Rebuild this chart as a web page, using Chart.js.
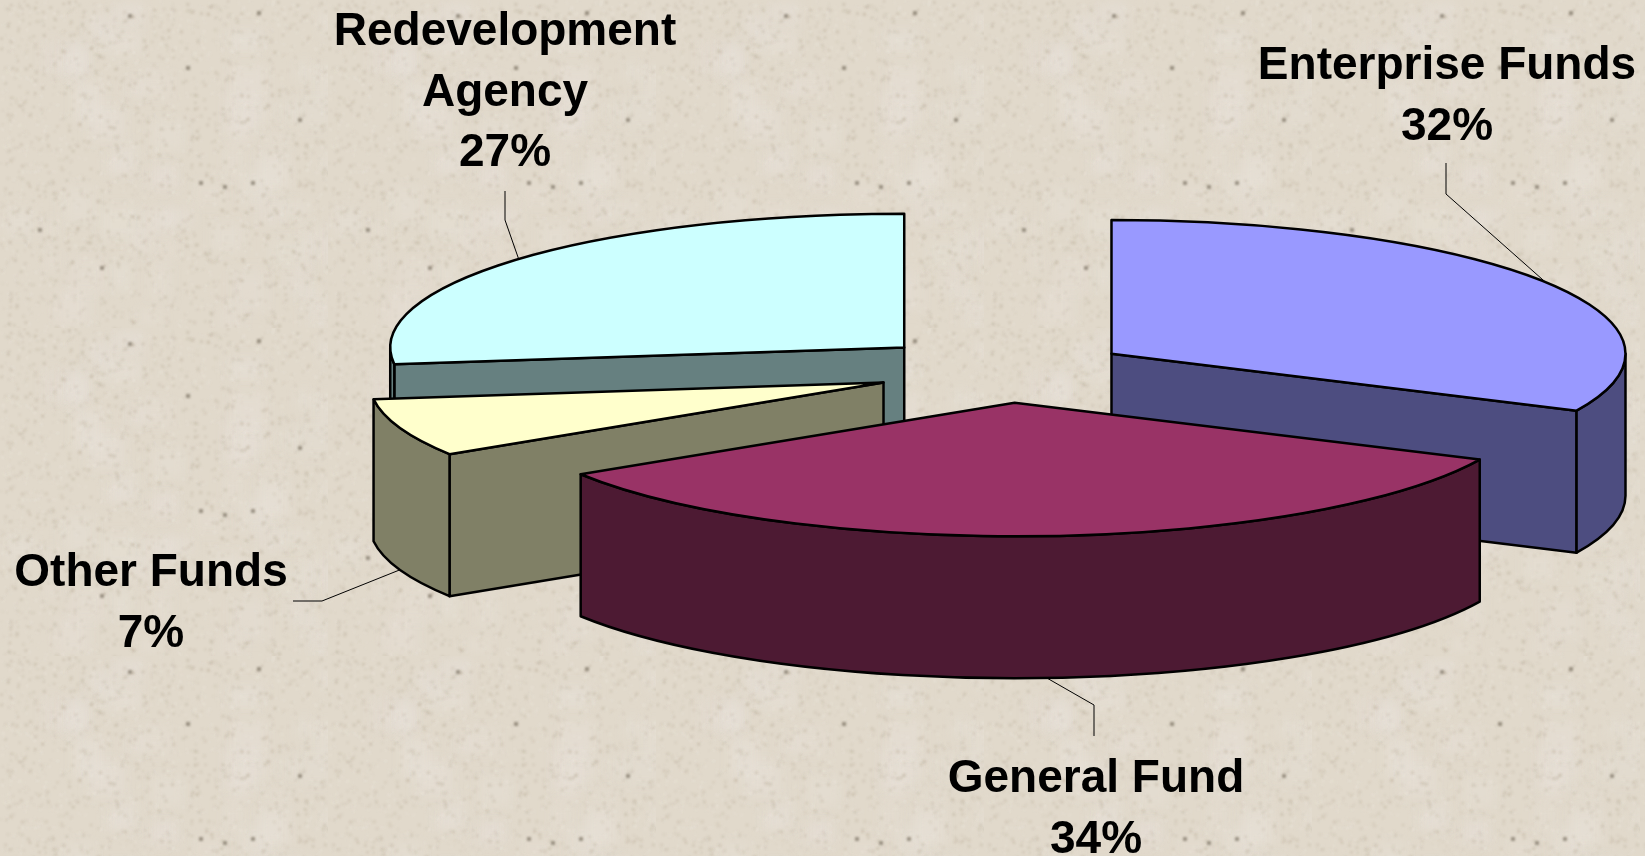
<!DOCTYPE html>
<html>
<head>
<meta charset="utf-8">
<title>Funds</title>
<style>
  html, body { margin: 0; padding: 0; background: #e0d8ca; overflow: hidden; }
  #wrap { width: 1645px; height: 856px; }
</style>
<script src="https://cdn.jsdelivr.net/npm/chart.js@4"></script>
</head>
<body>
<div id="wrap"><canvas id="mycanvas" width="1645" height="856"></canvas></div>
<script>
var categories = ["Enterprise Funds", "General Fund", "Other Funds", "Redevelopment Agency"];
var shares = [32, 34, 7, 27];

var topColors = ["#9999ff", "#993366", "#ffffcc", "#ccffff"];
var sideColors = ["#4d4d80", "#4d1a33", "#808066", "#668080"];
var explode = [495, 488, 525, 548];

// text lines + leader line per slice
var labelLines = [["Enterprise Funds"], ["General Fund"], ["Other Funds"], ["Redevelopment", "Agency"]];
var labelCenterX = [1447, 1096, 151, 505];
var labelBaseY = [79, 792, 586, 45];
var leaderBends = [
	[[1446, 194], [1446, 163]],
	[[1094, 705], [1094, 736]],
	[[322, 601], [293, 601]],
	[[505, 220], [505, 191]]
];

var TILT = 0.26;
var DEPTH = 142;
var LINE_GAP = 60.5;

// paper texture, one tile
var speckX = [130, 259, 188, 253, 201, 102, 40, 225, 300];
var speckY = [16, 13, 68, 183, 183, 268, 230, 187, 120];

function makeTile() {
	var size = 328;
	var tile = document.createElement("canvas");
	tile.width = size;
	tile.height = size;
	var c = tile.getContext("2d");
	c.fillStyle = "#e1d9cb";
	c.fillRect(0, 0, size, size);
	var seed = 12345;
	function next() {
		seed = (seed * 1103515245 + 12345) & 0x7fffffff;
		return seed / 0x7fffffff;
	}
	// soft blotches first, grain on top
	c.filter = "blur(6px)";
	for (var b = 0; b < 60; b++) {
		c.fillStyle = "rgba(232,226,218," + (0.2 + next() * 0.3) + ")";
		c.fillRect(next() * size, next() * size, 14 + next() * 26, 14 + next() * 26);
	}
	c.filter = "blur(1px)";
	for (var i = 0; i < 3600; i++) {
		var base = next() < 0.45 ? "rgba(175,162,140," : "rgba(240,235,226,";
		c.fillStyle = base + (0.1 + next() * 0.22) + ")";
		var s = 1 + next() * 2.5;
		c.fillRect(next() * size, next() * size, s, s);
	}
	c.filter = "blur(1px)";
	c.fillStyle = "rgba(120,110,95,0.65)";
	for (var k = 0; k < speckX.length; k++) {
		c.fillRect(speckX[k] - 2, speckY[k] - 2, 4, 4);
	}
	return tile;
}

var tileCanvas = makeTile();

function sliceCenter(arc, i) {
	var mid = (arc.startAngle + arc.endAngle) / 2;
	var off = arc.options.offset / 4;
	return {
		x: arc.x + Math.cos(mid) * off,
		y: arc.y + Math.sin(mid) * off * TILT,
		mid: mid,
		index: i
	};
}

function drawFace(ctx, c, R, ry, a) {
	var px = c.x + Math.cos(a) * R;
	var py = c.y + Math.sin(a) * ry;
	ctx.beginPath();
	ctx.moveTo(c.x, c.y);
	ctx.lineTo(px, py);
	ctx.lineTo(px, py + DEPTH);
	ctx.lineTo(c.x, c.y + DEPTH);
	ctx.closePath();
	ctx.fill();
	ctx.stroke();
}

function drawSlice(ctx, arc, c) {
	var R = arc.outerRadius;
	var ry = R * TILT;
	var a0 = arc.startAngle;
	var a1 = arc.endAngle;
	ctx.strokeStyle = "#000";
	ctx.lineWidth = 2.5;
	ctx.lineJoin = "round";
	ctx.fillStyle = sideColors[c.index];

	// cut faces, only the ones turned towards the viewer
	if (Math.cos(a0) < -0.001) {
		drawFace(ctx, c, R, ry, a0);
	}
	if (Math.cos(a1) > 0.001) {
		drawFace(ctx, c, R, ry, a1);
	}

	// outer wall, only the front half of the rim shows
	var from = Math.max(a0, 0);
	var to = Math.min(a1, Math.PI);
	if (to > from) {
		ctx.beginPath();
		ctx.ellipse(c.x, c.y, R, ry, 0, from, to);
		ctx.ellipse(c.x, c.y + DEPTH, R, ry, 0, to, from, true);
		ctx.closePath();
		ctx.fill();
		ctx.stroke();
	}

	// top
	ctx.fillStyle = topColors[c.index];
	ctx.beginPath();
	ctx.moveTo(c.x, c.y);
	ctx.ellipse(c.x, c.y, R, ry, 0, a0, a1);
	ctx.closePath();
	ctx.fill();
	ctx.stroke();
}

function drawLabel(ctx, arc, c) {
	var i = c.index;
	var R = arc.outerRadius;
	var sx = c.x + Math.cos(c.mid) * R;
	var sy = c.y + Math.sin(c.mid) * R * TILT;
	if (Math.sin(c.mid) > 0) {
		sy += DEPTH;
	}
	ctx.strokeStyle = "#000";
	ctx.lineWidth = 1;
	ctx.beginPath();
	ctx.moveTo(sx, sy);
	leaderBends[i].forEach(function(p) {
		ctx.lineTo(p[0], p[1]);
	});
	ctx.stroke();

	ctx.fillStyle = "#000";
	ctx.font = "bold 46px 'Liberation Sans'";
	ctx.textAlign = "center";
	ctx.textBaseline = "alphabetic";
	var lines = labelLines[i].concat([shares[i] + "%"]);
	lines.forEach(function(t, n) {
		ctx.fillText(t, labelCenterX[i], labelBaseY[i] + n * LINE_GAP);
	});
}

var pie3d = {
	id: "pie3d",
	beforeDraw: function(chart) {
		var ctx = chart.ctx;
		ctx.save();
		ctx.fillStyle = ctx.createPattern(tileCanvas, "repeat");
		ctx.fillRect(0, 0, chart.width, chart.height);
		ctx.restore();
	},
	beforeDatasetsDraw: function(chart) {
		var ctx = chart.ctx;
		var arcs = chart.getDatasetMeta(0).data;
		var centers = arcs.map(function(arc, i) {
			return sliceCenter(arc, i);
		});
		var order = centers.slice().sort(function(a, b) {
			return a.y - b.y;
		});
		ctx.save();
		order.forEach(function(c) {
			drawSlice(ctx, arcs[c.index], c);
		});
		centers.forEach(function(c) {
			drawLabel(ctx, arcs[c.index], c);
		});
		ctx.restore();
		return false;
	}
};

var chartdata = {
	labels: categories,
	datasets: [
		{
			data: shares,
			backgroundColor: topColors,
			borderColor: "#000",
			borderWidth: 0,
			offset: explode
		}
	]
};

var ctx = document.getElementById("mycanvas");

var pieChart = new Chart(ctx, {
	type: "pie",
	data: chartdata,
	options: {
		responsive: false,
		animation: false,
		radius: 514,
		layout: { padding: { left: 369, bottom: 114 } },
		plugins: {
			legend: { display: false },
			tooltip: { enabled: false }
		}
	},
	plugins: [pie3d]
});
</script>
</body>
</html>
